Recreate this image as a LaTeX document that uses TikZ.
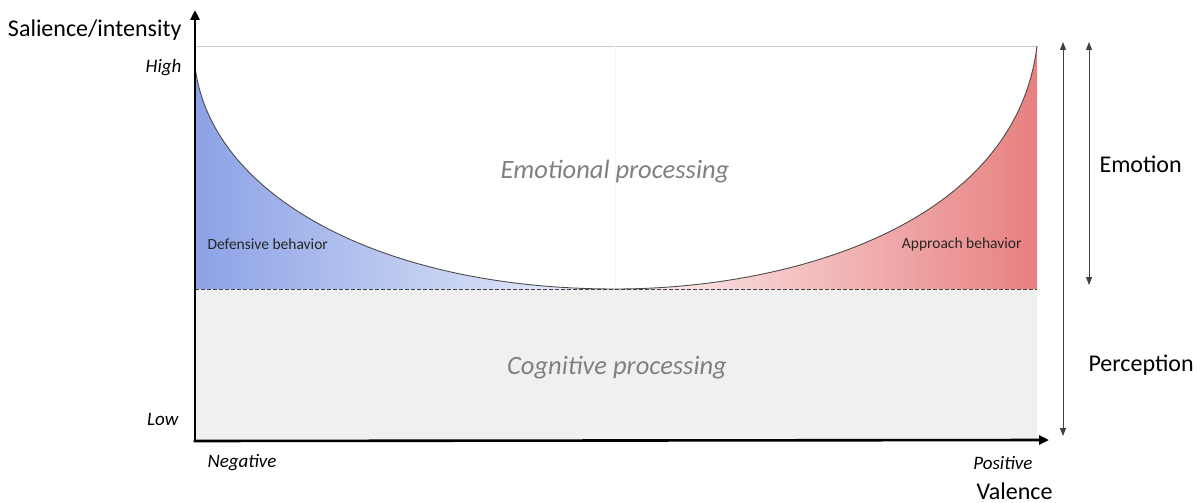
\documentclass[tikz,border=0pt]{standalone}
\usepackage{fontspec}
\setmainfont{Carlito}
\usetikzlibrary{arrows.meta}
\definecolor{cogfill}{RGB}{240,240,240}
\definecolor{blueL}{RGB}{140,162,230}
\definecolor{blueR}{RGB}{215,223,245}
\definecolor{redL}{RGB}{247,215,215}
\definecolor{redR}{RGB}{232,128,128}
\definecolor{procgray}{RGB}{128,128,128}
\tikzset{
  axis/.style={line width=2.6pt,-{Triangle[length=10pt,width=9pt]}},
  rangearrow/.style={line width=0.9pt,draw=black!75,{Triangle[length=8pt,width=6pt]}-{Triangle[length=8pt,width=6pt]}},
  proc/.style={font=\itshape\fontsize{26.5}{28}\selectfont,text=procgray},
  behav/.style={font=\fontsize{15.5}{17}\selectfont,text=black!85},
  ticklab/.style={font=\itshape\fontsize{19}{21}\selectfont},
  bigl/.style={font=\fontsize{24}{26}\selectfont},
}
\begin{document}
\begin{tikzpicture}[x=1pt,y=-1pt]
\useasboundingbox (0,0) rectangle (1199,503);
% cognitive region
\fill[cogfill] (195,289) rectangle (1037,440);
% top line
\draw[black!20,line width=0.8pt] (195,46) -- (1037,46);
\draw[blue!4,line width=0.8pt] (615,46) -- (615,289);
% left fill
\shade[left color=blueL,right color=blueR!40] (195,289) -- (195,66) .. controls (210,195) and (380,289) .. (615,289) -- cycle;
% right fill
\shade[left color=redL!30,right color=redR] (1037,289) -- (1037,46) .. controls (1015,225) and (790,289) .. (615,289) -- cycle;
% curve
\draw[black!70,line width=0.9pt] (195,66) .. controls (210,195) and (380,289) .. (615,289) .. controls (790,289) and (1015,225) .. (1037,46);
% dashed
\draw[black!75,dashed,line width=0.8pt,dash pattern=on 4pt off 2pt] (195,289) -- (1037,289);
% axes
\coordinate (origin) at (195,441);
\coordinate (ytop) at (195,10);
\coordinate (xend) at (1049,440);
\draw[axis] (origin) -- (ytop);
\draw[axis] ([xshift=-1.3pt]origin) -- (xend);
% range arrows
\coordinate (pTop) at (1063,42);
\coordinate (pBot) at (1063,436);
\coordinate (eTop) at (1089,42);
\coordinate (eBot) at (1089,285);
\draw[rangearrow] (pTop) -- (pBot);
\draw[rangearrow] (eTop) -- (eBot);
% labels
\node[bigl,anchor=east] (ylab) at (185,30) {Salience/intensity};
\node[ticklab,anchor=east] (high) at (185,68) {High};
\node[ticklab,anchor=east] (low) at (182,419) {Low};
\node[ticklab,anchor=west] (neg) at (204,463) {Negative};
\node[ticklab,anchor=east] (pos) at (1036,463) {Positive};
\node[bigl,anchor=east] (xlab) at (1056,491) {Valence};
\node[proc] (emo) at (615,172) {Emotional processing};
\node[proc] (cog) at (617,368) {Cognitive processing};
\node[behav,anchor=west] (def) at (204,244) {Defensive behavior};
\node[behav,anchor=east] (app) at (1025,244) {Approach behavior};
\node[bigl,anchor=west] (emotion) at (1096,164) {Emotion};
\node[bigl,anchor=west] (perc) at (1085,365) {Perception};
\end{tikzpicture}
\end{document}
